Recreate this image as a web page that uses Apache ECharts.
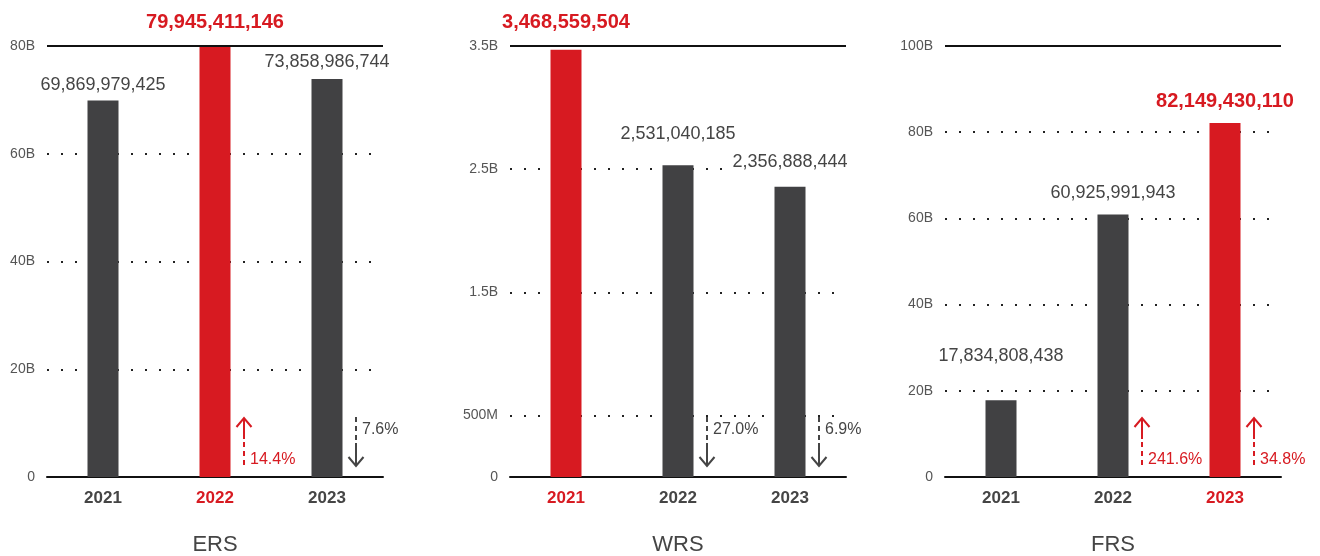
<!DOCTYPE html>
<html>
<head>
<meta charset="utf-8">
<script src="https://cdn.jsdelivr.net/npm/echarts@6/dist/echarts.min.js"></script>
<style>
  html, body { margin: 0; padding: 0; background: #fff; }
  #main { width: 1320px; height: 556px; }
</style>
</head>
<body>
<div id="main"></div>
<script>
  // data
  var years = ['2021', '2022', '2023'];
  var ersValues = [69869979425, 79945411146, 73858986744];
  var wrsValues = [3468559504, 2531040185, 2356888444];
  var frsValues = [17834808438, 60925991943, 82149430110];
  // year over year change in %, null = no arrow
  var ersChange = [null, 14.4, -7.6];
  var wrsChange = [null, -27.0, -6.9];
  var frsChange = [null, 241.6, 34.8];
  var ersTicks = [0, 20e9, 40e9, 60e9, 80e9];
  var wrsTicks = [0, 5e8, 1.5e9, 2.5e9, 3.5e9];
  var frsTicks = [0, 20e9, 40e9, 60e9, 80e9, 100e9];
  // index of the red (record) year per panel
  var ersRecord = 1;
  var wrsRecord = 0;
  var frsRecord = 2;

  var RED = '#d71a21';
  var DARK = '#414143';
  var TEXT = '#454545';
  var FONT = '"Liberation Sans", Arial, sans-serif';

  // layout per panel (labelGap = space between bar top and its value label)
  var panels = [
    { name: 'ERS', values: ersValues, change: ersChange, ticks: ersTicks, record: ersRecord,
      left: 47, labelGap: [7, 14, 8] },
    { name: 'WRS', values: wrsValues, change: wrsChange, ticks: wrsTicks, record: wrsRecord,
      left: 510, labelGap: [17, 22, 16] },
    { name: 'FRS', values: frsValues, change: frsChange, ticks: frsTicks, record: frsRecord,
      left: 945, labelGap: [35, 12, 11] }
  ];

  function tickLabel(v) {
    if (v === 0) return '0';
    if (v < 1e9) return (v / 1e6) + 'M';
    return (v / 1e9) + 'B';
  }

  function renderChange(params, api) {
    var pct = api.value(1);
    var base = api.coord([api.value(0), 0]);
    var x = base[0] + 29;
    var y = base[1];
    var up = pct > 0;
    var color = up ? RED : TEXT;
    var tip, solidEnd, dashFrom, dashTo, arm, textY;
    if (up) {
      tip = y - 59; solidEnd = y - 38; dashFrom = y - 35; dashTo = y - 10; arm = 9; textY = y - 17;
    } else {
      tip = y - 11; solidEnd = y - 34; dashFrom = y - 37; dashTo = y - 60; arm = -9; textY = y - 47;
    }
    return {
      type: 'group',
      children: [
        { type: 'line', shape: { x1: x, y1: tip, x2: x, y2: solidEnd },
          style: { stroke: color, lineWidth: 2 } },
        { type: 'line', shape: { x1: x, y1: dashFrom, x2: x, y2: dashTo },
          style: { stroke: color, lineWidth: 2, lineDash: [5, 4] } },
        { type: 'polyline', shape: { points: [[x - 7.5, tip + arm], [x, tip], [x + 7.5, tip + arm]] },
          style: { stroke: color, lineWidth: 2, fill: null } },
        { type: 'text', style: {
            text: Math.abs(pct).toFixed(1) + '%', x: x + 6, y: textY,
            fill: color, font: '16px ' + FONT, align: 'left', verticalAlign: 'middle' } }
      ]
    };
  }

  var grids = [], xAxes = [], yAxes = [], series = [];
  panels.forEach(function (p, i) {
    grids.push({ left: p.left, top: 46, width: 336, height: 431, outerBoundsMode: 'none' });
    xAxes.push({
      type: 'category', gridIndex: i, data: years,
      name: p.name, nameLocation: 'middle', nameGap: 57,
      nameTextStyle: { fontSize: 22, color: TEXT, fontFamily: FONT },
      axisLine: { lineStyle: { color: '#111', width: 2 } },
      axisTick: { show: false },
      axisLabel: {
        margin: 13, fontSize: 17, fontWeight: 'bold', fontFamily: FONT,
        color: function (value, idx) { return idx === p.record ? RED : TEXT; }
      }
    });
    var maxV = p.ticks[p.ticks.length - 1];
    yAxes.push({
      type: 'value', gridIndex: i, min: 0, max: maxV,
      axisLine: { show: false },
      axisTick: { show: false, customValues: p.ticks },
      axisLabel: { customValues: p.ticks, formatter: tickLabel, margin: 12,
        fontSize: 14, color: '#555', fontFamily: FONT },
      splitLine: { lineStyle: { color: '#222', width: 2, type: [2, 12] } }
    });
    series.push({
      type: 'bar', xAxisIndex: i, yAxisIndex: i, barWidth: 31,
      data: p.values.map(function (v, k) {
        var rec = k === p.record;
        var lbl = { distance: p.labelGap[k] };
        if (rec) { lbl.fontSize = 20; lbl.fontWeight = 'bold'; lbl.color = RED; }
        return { value: v, itemStyle: { color: rec ? RED : DARK }, label: lbl };
      }),
      label: {
        show: true, position: 'top',
        fontSize: 18, color: TEXT, fontFamily: FONT,
        backgroundColor: '#fff', padding: [0, 2],
        formatter: function (d) { return d.value.toLocaleString('en-US'); }
      },
      markLine: {
        silent: true, symbol: 'none', label: { show: false },
        lineStyle: { type: 'solid', color: '#111', width: 2 },
        data: [{ yAxis: maxV }]
      }
    });
    var changeData = [];
    p.change.forEach(function (c, k) { if (c !== null) changeData.push([k, c]); });
    series.push({
      type: 'custom', xAxisIndex: i, yAxisIndex: i, clip: false, z: 5,
      renderItem: renderChange, data: changeData
    });
  });

  var chart = echarts.init(document.getElementById('main'));
  chart.setOption({
    backgroundColor: '#fff',
    animation: false,
    textStyle: { fontFamily: FONT },
    grid: grids,
    xAxis: xAxes,
    yAxis: yAxes,
    series: series
  });
</script>
</body>
</html>
